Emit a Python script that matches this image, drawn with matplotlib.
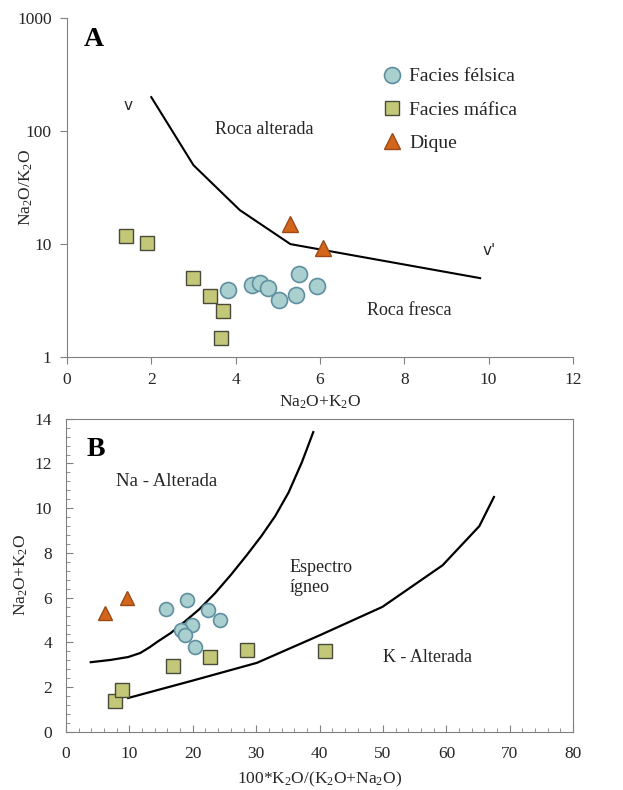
#!/usr/bin/env python3
## two panel alteration diagrams (A: Na2O/K2O vs Na2O+K2O, B: Hughes style)

import matplotlib
matplotlib.use("Agg")
import matplotlib.pyplot as plt
from matplotlib.ticker import MultipleLocator

plt.rcParams['font.family'] = ['Liberation Serif', 'DejaVu Serif']
plt.rcParams['mathtext.fontset'] = 'custom'
plt.rcParams['mathtext.rm'] = 'Liberation Serif'
plt.rcParams['mathtext.it'] = 'Liberation Serif:italic'

## ---- panel A data ----
a_line_x = [2.0, 3.0, 4.1, 5.3, 9.8]
a_line_y = [200, 50, 20, 10, 5.0]

a_fel_x = [3.81, 4.40, 4.58, 4.77, 5.03, 5.43, 5.51, 5.94]
a_fel_y = [3.95, 4.38, 4.56, 4.12, 3.18, 3.54, 5.40, 4.29]

a_maf_x = [1.41, 1.89, 2.99, 3.40, 3.69, 3.65]
a_maf_y = [11.9, 10.2, 5.05, 3.50, 2.56, 1.48]

a_dik_x = [5.28, 6.07]
a_dik_y = [15.2, 9.3]

## ---- panel B data ----
b_up_x = [3.9, 7.0, 9.8, 11.7, 13.2, 14.5, 16.5, 18.5, 21.0, 23.5,
          26.0, 28.5, 30.8, 33.0, 35.1, 37.2, 39.0]
b_up_y = [3.12, 3.22, 3.35, 3.53, 3.79, 4.05, 4.42, 4.88, 5.48, 6.20,
          7.02, 7.90, 8.75, 9.65, 10.70, 12.05, 13.4]

b_lo_x = [9.8, 20.0, 30.1, 40.0, 49.9, 59.4, 65.2, 67.5]
b_lo_y = [1.52, 2.30, 3.09, 4.32, 5.59, 7.45, 9.2, 10.5]

b_fel_x = [15.7, 19.1, 22.4, 24.3, 19.9, 18.1, 18.8, 20.4]
b_fel_y = [5.50, 5.92, 5.43, 4.99, 4.76, 4.58, 4.35, 3.80]

b_maf_x = [7.8, 8.9, 16.8, 22.7, 28.5, 40.9]
b_maf_y = [1.39, 1.86, 2.97, 3.35, 3.68, 3.62]

b_dik_x = [6.2, 9.6]
b_dik_y = [5.3, 6.0]

FEL = dict(marker='o', color='#a9cfcf', mec='#5f8fa0', mew=1.2, ls='none')
MAF = dict(marker='s', color='#c3c878', mec='#4a4a3a', mew=1.0, ls='none')
DIK = dict(marker='^', color='#d4661c', mec='#9a4a18', mew=1.0, ls='none')
TXT = '#262626'
AXC = '#808080'

fig = plt.figure(figsize=(6.23, 7.90), dpi=100)

## panel A
ax = fig.add_axes([0.1075, 0.548, 0.812, 0.429])
ax.plot(a_line_x, a_line_y, color='black', lw=1.5)
ax.plot(a_fel_x, a_fel_y, ms=11.5, label='Facies félsica', **FEL)
ax.plot(a_maf_x, a_maf_y, ms=9.5, label='Facies máfica', **MAF)
ax.plot(a_dik_x, a_dik_y, ms=11, label='Dique', **DIK)
ax.set_yscale('log')
ax.set_xlim(0, 12)
ax.set_ylim(1, 1000)
ax.set_xticks(range(0, 13, 2))
ax.set_yticks([1, 10, 100, 1000])
ax.set_yticklabels(['1', '10', '100', '1000'])
ax.minorticks_off()
for s in ['top', 'right']:
    ax.spines[s].set_visible(False)
for s in ['left', 'bottom']:
    ax.spines[s].set_color(AXC)
ax.tick_params(direction='out', length=5, color=AXC, labelsize=12.5, labelcolor=TXT, pad=6)
ax.set_xlabel('Na$_2$O+K$_2$O', fontsize=12.5, color=TXT)
ax.set_ylabel('Na$_2$O/K$_2$O', fontsize=12.5, color=TXT)
ax.xaxis.set_label_coords(0.5, -0.108)
ax.yaxis.set_label_coords(-0.064, 0.5)
ax.text(0.034, 0.975, 'A', transform=ax.transAxes, fontsize=20, fontweight='bold',
        va='top', ha='left', color='black')
ax.text(1.44, 167, 'v', fontsize=11, color=TXT, ha='center', va='center', family='DejaVu Sans')
ax.text(10.02, 8.8, "v'", fontsize=11, color=TXT, ha='center', va='center', family='DejaVu Sans')
ax.text(4.67, 104, 'Roca alterada', fontsize=13, color=TXT, ha='center', va='center')
ax.text(8.13, 2.59, 'Roca fresca', fontsize=13, color=TXT, ha='center', va='center')
ax.legend(loc='upper left', bbox_to_anchor=(0.584, 0.905), frameon=False, fontsize=14,
          handletextpad=0.3, labelspacing=0.8, handlelength=1.2, labelcolor=TXT)

## panel B
bx = fig.add_axes([0.106, 0.0734, 0.814, 0.3966])
bx.plot(b_up_x, b_up_y, color='black', lw=1.6)
bx.plot(b_lo_x, b_lo_y, color='black', lw=1.6)
bx.plot(b_fel_x, b_fel_y, ms=10, **FEL)
bx.plot(b_maf_x, b_maf_y, ms=9.5, **MAF)
bx.plot(b_dik_x, b_dik_y, ms=10, **DIK)
bx.set_xlim(0, 80)
bx.set_ylim(0, 14)
bx.xaxis.set_major_locator(MultipleLocator(10))
bx.xaxis.set_minor_locator(MultipleLocator(2))
bx.yaxis.set_major_locator(MultipleLocator(2))
bx.yaxis.set_minor_locator(MultipleLocator(0.4))
for s in bx.spines.values():
    s.set_color(AXC)
bx.tick_params(which='both', direction='in', color=AXC, labelsize=12.5, labelcolor=TXT)
bx.tick_params(which='major', length=5)
bx.tick_params(which='minor', length=3)
bx.tick_params(axis='x', pad=10)
bx.tick_params(axis='y', pad=10)
bx.set_xlabel('100*K$_2$O/(K$_2$O+Na$_2$O)', fontsize=12.5, color=TXT)
bx.set_ylabel('Na$_2$O+K$_2$O', fontsize=12.5, color=TXT)
bx.xaxis.set_label_coords(0.5, -0.12)
bx.yaxis.set_label_coords(-0.071, 0.5)
bx.text(0.04, 0.94, 'B', transform=bx.transAxes, fontsize=20, fontweight='bold',
        va='top', ha='left', color='black')
bx.text(15.9, 11.18, 'Na - Alterada', fontsize=13.5, color=TXT, ha='center', va='center')
bx.text(35.3, 6.9, 'Espectro\nígneo', fontsize=13, color=TXT, ha='left', va='center',
        linespacing=1.2)
bx.text(57.0, 3.35, 'K - Alterada', fontsize=13, color=TXT, ha='center', va='center')

fig.savefig('out.png', dpi=100)
